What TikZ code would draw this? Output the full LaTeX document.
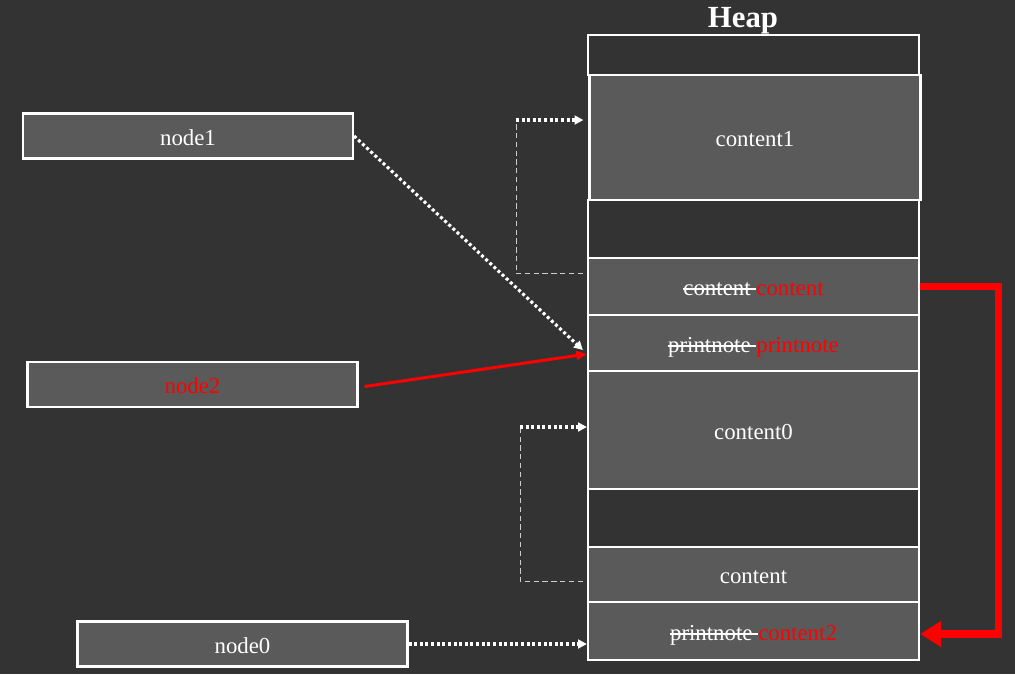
\documentclass[tikz,border=0pt]{standalone}
\usepackage{fontspec}
\setmainfont{Liberation Serif}
\usepackage{tikz}
\usetikzlibrary{arrows.meta,calc}
\definecolor{bgdark}{HTML}{333333}
\definecolor{boxgray}{HTML}{5A5A5A}
\newcommand{\strk}[1]{\setbox0\hbox{#1}\rlap{\rule[0.25em]{\wd0}{0.07em}}\box0}

\begin{document}
\begin{tikzpicture}[x=0.02cm,y=-0.02cm,
  cell/.style={draw=white, line width=1.3pt, fill=boxgray, text=white, minimum width=6.62cm, inner sep=0pt, text height=10.5pt, text depth=0pt, font=\fontsize{13pt}{15pt}\selectfont},
  gap/.style={cell, fill=bgdark},
  ptr/.style={cell, minimum width=6.6cm, minimum height=0.9cm},
  dotarrow/.style={draw=white, line width=1.8pt, dash pattern=on 1.7pt off 1.5pt, -{Triangle[length=5pt,width=5pt]}},
  guide/.style={draw=white!75!bgdark, line width=0.5pt, dash pattern=on 3pt off 2pt},
  redarrow/.style={draw=red, line width=1.7pt, -{Triangle[length=6pt,width=5pt]}},
  bigred/.style={draw=red, line width=4pt, -{Triangle[length=12pt,width=14pt]}}]
\fill[bgdark] (0,0) rectangle (1015,674);
\node[font=\bfseries\fontsize{17.5pt}{20pt}\selectfont, text=white, anchor=base] (heap) at (743,27) {Heap};
% heap cells
\node[gap, minimum height=0.8cm] (h0) at (753.5,55) {};
\node[cell, minimum height=2.5cm] (c1) at (755,137.5) {content1};
\node[gap, minimum height=1.16cm] (h2) at (753.5,229) {};
\node[cell, minimum height=1.14cm] (cc) at (753.5,286.5) {\strk{content\ }\textcolor{red}{content}};
\node[cell, minimum height=1.12cm] (pn) at (753.5,343) {\strk{printnote\ }\textcolor{red}{printnote}};
\node[cell, minimum height=2.36cm] (c0) at (753.5,430) {content0};
\node[gap, minimum height=1.16cm] (h6) at (753.5,518) {};
\node[cell, minimum height=1.1cm] (ct) at (753.5,574.5) {content};
\node[cell, minimum height=1.16cm] (pc2) at (753.5,631) {\strk{printnote\ }\textcolor{red}{content2}};
% pointers
\node[ptr] (node1) at (188,136) {node1};
\node[ptr, text=red] (node2) at (192.5,384.5) {node2};
\node[ptr] (node0) at (242.5,644) {node0};
\coordinate (g1) at (516,120);
\coordinate (g0) at (520,427);
\draw[dotarrow] (node1.east) -- ($(pn.west)+(-4,7)$);
\draw[redarrow] ($(node2.east)+(6,2)$) -- ($(pn.west)+(0,11)$);
\draw[dotarrow] (node0.east) -- (node0.east -| pc2.west);
\draw[guide] ($(cc.west)+(-4,-13)$) -| (g1);
\draw[dotarrow] (g1) -- ($(g1 -| c1.west)+(-5,0)$);
\draw[guide] ($(ct.west)+(-4,6.5)$) -| (g0);
\draw[dotarrow] (g0) -- (g0 -| c0.west);
\draw[bigred] (cc.east) -- ++(78,0) |- ($(pc2.east)+(0,3)$);
\end{tikzpicture}
\end{document}
